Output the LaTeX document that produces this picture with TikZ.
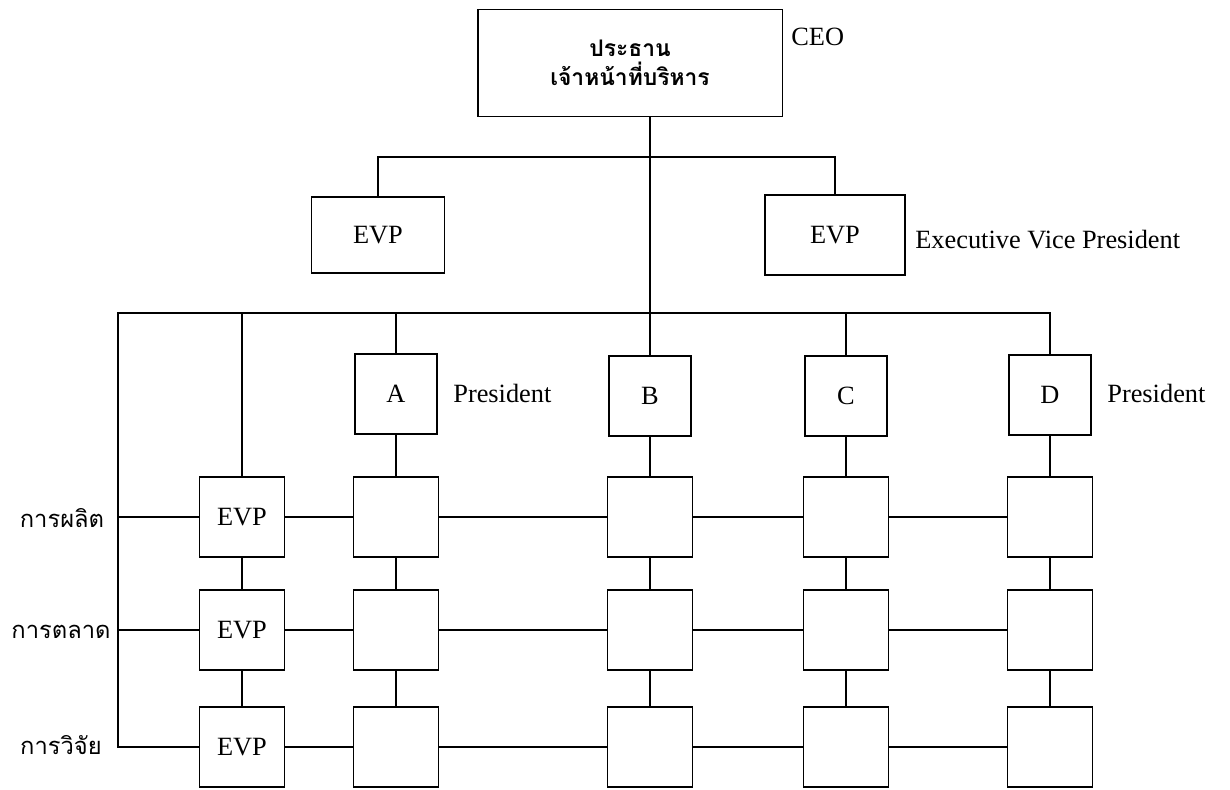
\documentclass[tikz,border=0pt]{standalone}
\usepackage{fontspec}
\setmainfont{Liberation Serif}
\newfontfamily\thaifont[Script=Thai]{Loma}
\begin{document}
\begin{tikzpicture}[x=0.02cm,y=-0.02cm,
    box/.style = {draw,line width=1.1pt,inner sep=0pt,minimum width=1.7cm,minimum height=1.6cm,font=\fontsize{15}{17}\selectfont},
    pbox/.style = {box,minimum width=1.64cm},
    tag/.style = {anchor=west,inner sep=0pt,font=\fontsize{15}{17}\selectfont},
    rowtag/.style = {inner sep=0pt,font=\thaifont\fontsize{13.5}{15}\selectfont},
    link/.style = {line width=1pt}]
    \useasboundingbox (0,0) rectangle (1230,790);

    % top level
    \node[box,minimum width=6.1cm,minimum height=2.14cm,align=center,
          font=\thaifont\bfseries\fontsize{13}{16.5}\selectfont] (ceo) at (630,63)
          {ประธาน\\เจ้าหน้าที่บริหาร};
    \node[tag] (ceotag) at (791,37) {CEO};

    \node[box,minimum width=2.66cm,minimum height=1.52cm] (evpL) at (378,235) {EVP};
    \node[box,minimum width=2.8cm] (evpR) at (835,235) {EVP};
    \node[tag] (evptag) at (915,240) {Executive Vice President};

    % presidents
    \node[pbox] (pA) at (396,394) {A};
    \node[pbox] (pB) at (650,396) {B};
    \node[pbox] (pC) at (846,396) {C};
    \node[pbox] (pD) at (1050,395) {D};
    \node[tag] (ptagA) at (453,393) {President};
    \node[tag] (ptagD) at (1107,393) {President};

    % functions
    \node[rowtag] (tagprod) at (62,518) {การผลิต};
    \node[rowtag] (tagmkt) at (61,632) {การตลาด};
    \node[rowtag] (tagres) at (61,745) {การวิจัย};

    \node[box] (r1E) at (242,517) {EVP};
    \node[box] (r1A) at (396,517) {};
    \node[box] (r1B) at (650,517) {};
    \node[box] (r1C) at (846,517) {};
    \node[box] (r1D) at (1050,517) {};

    \node[box] (r2E) at (242,630) {EVP};
    \node[box] (r2A) at (396,630) {};
    \node[box] (r2B) at (650,630) {};
    \node[box] (r2C) at (846,630) {};
    \node[box] (r2D) at (1050,630) {};

    \node[box] (r3E) at (242,747) {EVP};
    \node[box] (r3A) at (396,747) {};
    \node[box] (r3B) at (650,747) {};
    \node[box] (r3C) at (846,747) {};
    \node[box] (r3D) at (1050,747) {};

    \coordinate (evpbus) at (640,157);
    \coordinate (lt) at (118,313);
    \coordinate (lb) at (118,747);

    % buses
    \draw[link] (evpL.north) |- (evpbus) -| (evpR.north);
    \draw[link] (pB.north |- ceo.south) -- (pB.north);
    \draw[link] (pD.north) |- (lt) -- (lb) -- (r3E.west);
    \draw[link] (r1E.north) -- (r1E.north |- lt);
    \draw[link] (pA.north) -- (pA.north |- lt);
    \draw[link] (pC.north) -- (pC.north |- lt);
    \draw[link] (r1E.west) -- (r1E.west -| lt);
    \draw[link] (r2E.west) -- (r2E.west -| lt);

    % rows
    \draw[link] (r1E) -- (r1A);
    \draw[link] (r1A) -- (r1B);
    \draw[link] (r1B) -- (r1C);
    \draw[link] (r1C) -- (r1D);
    \draw[link] (r2E) -- (r2A);
    \draw[link] (r2A) -- (r2B);
    \draw[link] (r2B) -- (r2C);
    \draw[link] (r2C) -- (r2D);
    \draw[link] (r3E) -- (r3A);
    \draw[link] (r3A) -- (r3B);
    \draw[link] (r3B) -- (r3C);
    \draw[link] (r3C) -- (r3D);

    % columns
    \draw[link] (r1E) -- (r2E);
    \draw[link] (r2E) -- (r3E);
    \draw[link] (pA) -- (r1A);
    \draw[link] (r1A) -- (r2A);
    \draw[link] (r2A) -- (r3A);
    \draw[link] (pB) -- (r1B);
    \draw[link] (r1B) -- (r2B);
    \draw[link] (r2B) -- (r3B);
    \draw[link] (pC) -- (r1C);
    \draw[link] (r1C) -- (r2C);
    \draw[link] (r2C) -- (r3C);
    \draw[link] (pD) -- (r1D);
    \draw[link] (r1D) -- (r2D);
    \draw[link] (r2D) -- (r3D);
\end{tikzpicture}
\end{document}
